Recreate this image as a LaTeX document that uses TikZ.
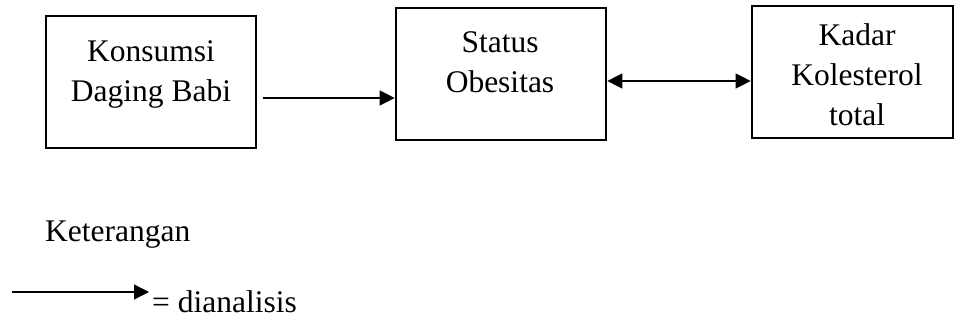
\documentclass[tikz,border=0pt]{standalone}
\usepackage{fontspec}
\setmainfont{Liberation Serif}
\usetikzlibrary{arrows.meta,calc}
\begin{document}
\begin{tikzpicture}[x=1pt,y=-1pt,
  box/.style={draw,line width=2.7pt,rectangle,inner sep=0pt},
  txt/.style={anchor=north,inner sep=0pt,align=center,font=\fontsize{31.5}{40}\selectfont},
  ltxt/.style={anchor=base west,inner sep=0pt,font=\fontsize{31.5}{40}\selectfont},
  arr/.style={line width=1.3pt,-{Triangle[length=15pt,width=15pt]}},
  darr/.style={line width=1.3pt,{Triangle[length=15pt,width=15pt]}-{Triangle[length=15pt,width=15pt]}}]
\useasboundingbox (0,0) rectangle (955,320);
% boxes
\node[box,minimum width=210pt,minimum height=132pt] (b1) at (151,82) {};
\node[box,minimum width=210pt,minimum height=132pt] (b2) at (501,74) {};
\node[box,minimum width=201pt,minimum height=132pt] (b3) at (852.5,72) {};
% texts
\node[txt] (t1) at (151,40.5) {Konsumsi\\Daging Babi};
\node[txt] (t2) at (500,31.5) {Status\\Obesitas};
\node[txt] (t3) at (857,23.5) {Kadar\\Kolesterol\\total};
% connectors
\draw[arr] ($(b1.east|-0,98)+(6,0)$) -- (b2.west|-0,98);
\draw[darr] (b2.east|-0,81) -- (b3.west|-0,81);
% legend
\node[ltxt] (ket) at (45,242) {Keterangan};
\coordinate (la) at (12,292);
\coordinate (lb) at (149,292);
\draw[arr] (la) -- (lb);
\node[ltxt] (dia) at (152,312) {= dianalisis};
\end{tikzpicture}
\end{document}
